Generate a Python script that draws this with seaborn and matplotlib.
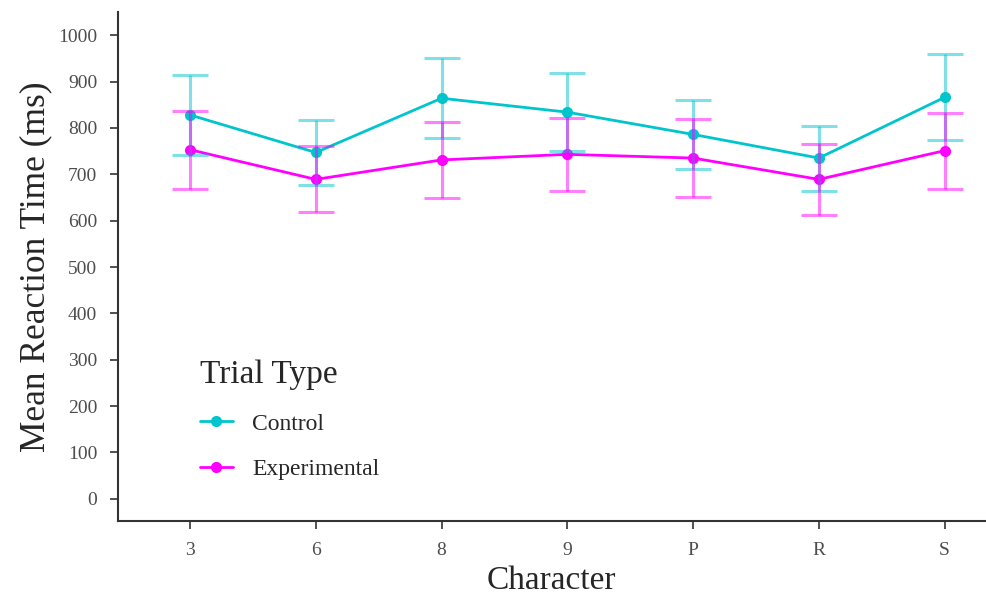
import pandas as pd
import seaborn as sns
import matplotlib.pyplot as plt

# values
characters = ["3", "6", "8", "9", "P", "R", "S"]
control_rt = [828, 747, 864, 834, 786, 735, 866]
control_err = [87, 70, 86, 84, 74, 70, 93]
experimental_rt = [753, 689, 731, 743, 735, 689, 751]
experimental_err = [84, 71, 82, 78, 84, 77, 82]
trial_types = ["Control", "Experimental"]
colors = {"Control": "#00C5CD", "Experimental": "#FF00FF"}

df = pd.DataFrame({
    "Character": characters * 2,
    "RT": control_rt + experimental_rt,
    "Err": control_err + experimental_err,
    "Trial Type": [trial_types[0]] * len(characters) + [trial_types[1]] * len(characters),
})

sns.set_theme(style="ticks")
plt.rcParams["font.family"] = ["Liberation Serif", "DejaVu Serif"]

fig = plt.figure(figsize=(9.87, 6.01), dpi=100)
ax = fig.add_axes([0.1196, 0.133, 0.878, 0.847])

sns.pointplot(data=df, x="Character", y="RT", hue="Trial Type", order=characters,
              hue_order=trial_types, palette=colors, errorbar=None, markers="o",
              markersize=6.5, linewidth=2, ax=ax)

# error bars, semi-transparent, on top
for tt in trial_types:
    sub = df[df["Trial Type"] == tt].set_index("Character").loc[characters]
    ax.errorbar(range(len(characters)), sub["RT"], yerr=sub["Err"], fmt="none",
                ecolor=colors[tt], alpha=0.5, elinewidth=2.2, capsize=13,
                capthick=2.2, zorder=5)

ax.set_xlim(-0.572, 6.318)
ax.set_ylim(-48, 1050)
ax.set_yticks(range(0, 1001, 100))
ax.set_xlabel("Character", fontsize=24, labelpad=5)
ax.set_ylabel("Mean Reaction Time (ms)", fontsize=25.5, labelpad=4)
ax.tick_params(axis="both", labelsize=14, labelcolor="#4D4D4D", color="#333333",
               length=6, width=1.2, direction="out", pad=9)
for side in ["top", "right"]:
    ax.spines[side].set_visible(False)
for side in ["left", "bottom"]:
    ax.spines[side].set_color("#333333")
    ax.spines[side].set_linewidth(1.5)

leg = ax.legend(title="Trial Type", loc="upper left", bbox_to_anchor=(0.07, 0.36),
                frameon=False, fontsize=17, title_fontsize=24, handlelength=1.4,
                labelspacing=1.0, handletextpad=0.8)
leg._legend_box.align = "left"

fig.savefig("out.png", dpi=100)
